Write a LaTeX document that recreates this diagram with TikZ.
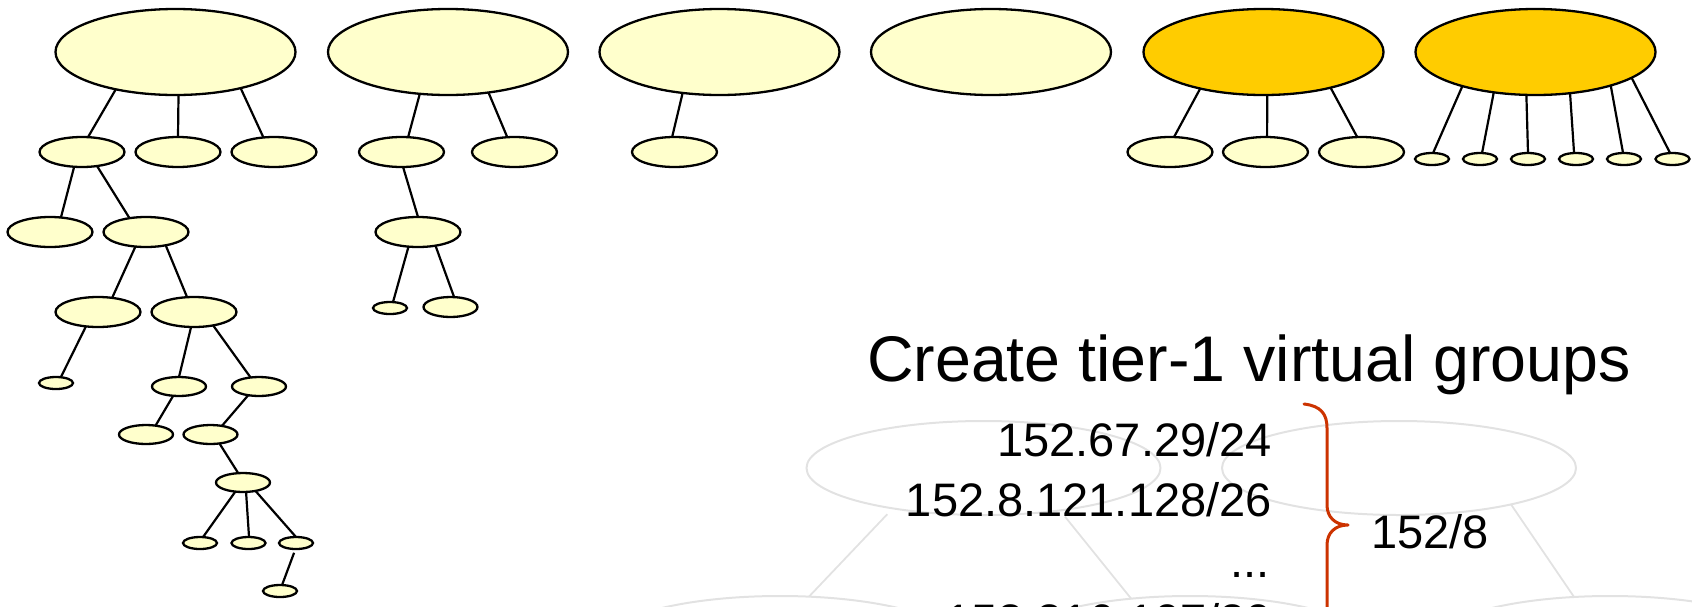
\documentclass[tikz,border=0pt]{standalone}
\usepackage{fontspec}
\setmainfont{Liberation Sans}
\usetikzlibrary{shapes.geometric}
\definecolor{paleyellow}{RGB}{255,255,204}
\definecolor{gold}{RGB}{255,204,0}
\definecolor{ghostgray}{RGB}{226,226,226}
\definecolor{bracered}{RGB}{204,51,0}
\begin{document}
\begin{tikzpicture}[x=1pt,y=-1pt,
  grp/.style={ellipse,draw=black,line width=2.3pt,inner sep=0pt,outer sep=0pt,fill=paleyellow},
  big/.style={grp,minimum width=240pt,minimum height=86pt},
  mid/.style={grp,minimum width=85pt,minimum height=30pt},
  sml/.style={grp,minimum width=54pt,minimum height=19pt},
  tiny/.style={grp,minimum width=34pt,minimum height=12pt},
  hot/.style={fill=gold},
  link/.style={line width=2.2pt,draw=black},
  ghost/.style={ellipse,draw=ghostgray,line width=2pt,inner sep=0pt,outer sep=0pt,minimum width=354pt,minimum height=94pt},
  ghostlink/.style={draw=ghostgray,line width=1.8pt},
  lbl/.style={inner sep=0pt,font=\fontsize{47}{56}\selectfont},
]
\useasboundingbox (0,0) rectangle (1692,606);
\clip (0,0) rectangle (1692,606);

% ---- faint background tree ----
\node[ghost] (ga) at (983.5,468) {};
\node[ghost] (gb) at (1399,468) {};
\node[ghost] (gc) at (780,643) {};
\node[ghost] (gd) at (1190,643) {};
\node[ghost] (ge) at (1610,643) {};
\draw[ghostlink,shorten <=8pt] (ga.-156.1) -- (gc.58.7);
\draw[ghostlink,shorten <=8pt] (ga.-29.4) -- (gd.143.9);
\draw[ghostlink] (gb.-18) -- (ge.128);

% ---- top-level groups ----
\node[big] (t1) at (175.5,52) {};
\node[big] (t2) at (448,52) {};
\node[big] (t3) at (719.5,52) {};
\node[big] (t4) at (991,52) {};
\node[big,hot] (t5) at (1263.5,52) {};
\node[big,hot] (t6) at (1535.5,52) {};

% ---- tree under t1 ----
\node[mid] (a1) at (82,152) {};
\node[mid] (a2) at (178,152) {};
\node[mid] (a3) at (274,152) {};
\node[mid] (b1) at (50,232) {};
\node[mid] (b2) at (146,232) {};
\node[mid] (c1) at (98,312) {};
\node[mid] (c2) at (194,312) {};
\node[tiny] (d1) at (56,383) {};
\node[sml] (d2) at (179,386.5) {};
\node[sml] (d3) at (259,386.5) {};
\node[sml] (e1) at (146,434.5) {};
\node[sml] (e2) at (210.5,434.5) {};
\node[sml] (f1) at (243,482.5) {};
\node[tiny] (g1) at (200,543) {};
\node[tiny] (g2) at (248.5,543) {};
\node[tiny] (g3) at (296,543) {};
\node[tiny] (h1) at (280,591) {};

\draw[link] (t1.-148) -- (a1.68.2);
\draw[link] (t1.-86.7) -- (a2.90);
\draw[link] (t1.-29.7) -- (a3.126.3);
\draw[link] (a1.-118.1) -- (b1.53.7);
\draw[link] (a1.-43.2) -- (b2.140.2);
\draw[link] (b2.-126.3) -- (c1.45);
\draw[link] (b2.-34.3) -- (c2.115);
\draw[link] (c1.-130.9) -- (d1.50.2);
\draw[link] (c2.-101.3) -- (d2.90);
\draw[link] (c2.-35.5) -- (d3.133.5);
\draw[link] (d2.-122.3) -- (e1.43.5);
\draw[link] (d3.-141.6) -- (e2.37.2);
\draw[link] (e2.-45) -- (f1.117.8);
\draw[link] (f1.-130.1) -- (g1.63.4);
\draw[link] (f1.-72.5) -- (g2.85);
\draw[link] (f1.-34.2) -- (g3.90);
\draw[link,shorten <=4pt] (g3.-95.7) -- (h1.71.6);

% ---- tree under t2 ----
\node[mid] (a4) at (401.5,152) {};
\node[mid] (a5) at (514.5,152) {};
\node[mid] (b3) at (418,232) {};
\node[tiny] (c3) at (390,308) {};
\node[sml,minimum height=20pt] (c4) at (450.5,307) {};
\draw[link] (t2.-124.9) -- (a4.66.6);
\draw[link] (t2.-45.7) -- (a5.116.6);
\draw[link] (a4.-84.3) -- (b3.90);
\draw[link] (b3.-123.7) -- (c3.63.4);
\draw[link] (b3.-38.3) -- (c4.70.7);

% ---- tree under t3 ----
\node[mid] (a6) at (674.5,152) {};
\draw[link] (t3.-132.6) -- (a6.99.5);

% ---- tree under t5 ----
\node[mid] (a7) at (1170,152) {};
\node[mid] (a8) at (1265.5,152) {};
\node[mid] (a9) at (1361.5,152) {};
\draw[link] (t5.-150.3) -- (a7.75.1);
\draw[link] (t5.-85.3) -- (a8.84);
\draw[link] (t5.-28) -- (a9.106.7);

% ---- tree under t6 ----
\node[tiny] (s1) at (1432,159) {};
\node[tiny] (s2) at (1480,159) {};
\node[tiny] (s3) at (1528,159) {};
\node[tiny] (s4) at (1576,159) {};
\node[tiny] (s5) at (1624,159) {};
\node[tiny] (s6) at (1672.5,159) {};
\draw[link] (t6.-155.8) -- (s1.80.5);
\draw[link] (t6.-136.7) -- (s2.71.6);
\draw[link] (t6.-102.5) -- (s3.90);
\draw[link] (t6.-50.7) -- (s4.108.4);
\draw[link] (t6.-24.8) -- (s5.99.5);
\draw[link] (t6.-15.6) -- (s6.112.6);

% ---- caption and prefixes ----
\node[inner sep=0pt,anchor=base,font=\fontsize{64.5}{77}\selectfont] (title) at (1249,381) {Create tier-1 virtual groups};
\node[lbl,anchor=base east] (ip1) at (1272,456) {152.67.29/24};
\node[lbl,anchor=base east] (ip2) at (1272,516) {152.8.121.128/26};
\node[lbl,anchor=base east] (ipdots) at (1270,577) {...};
\node[lbl,anchor=base east] (ip4) at (1272,637) {152.216.107/20};
\node[lbl,anchor=base west] (agg) at (1371,548) {152/8};

% ---- brace grouping the prefixes ----
\draw[bracered,line width=3pt,line cap=round,line join=round]
  (1304,404) .. controls (1321,406) and (1327,414) .. (1327,428)
  -- (1327,505) .. controls (1327,517) and (1335,525) .. (1348,525)
  .. controls (1335,525) and (1327,533) .. (1327,545)
  -- (1327,622) .. controls (1327,636) and (1321,644) .. (1304,646);
\end{tikzpicture}
\end{document}
